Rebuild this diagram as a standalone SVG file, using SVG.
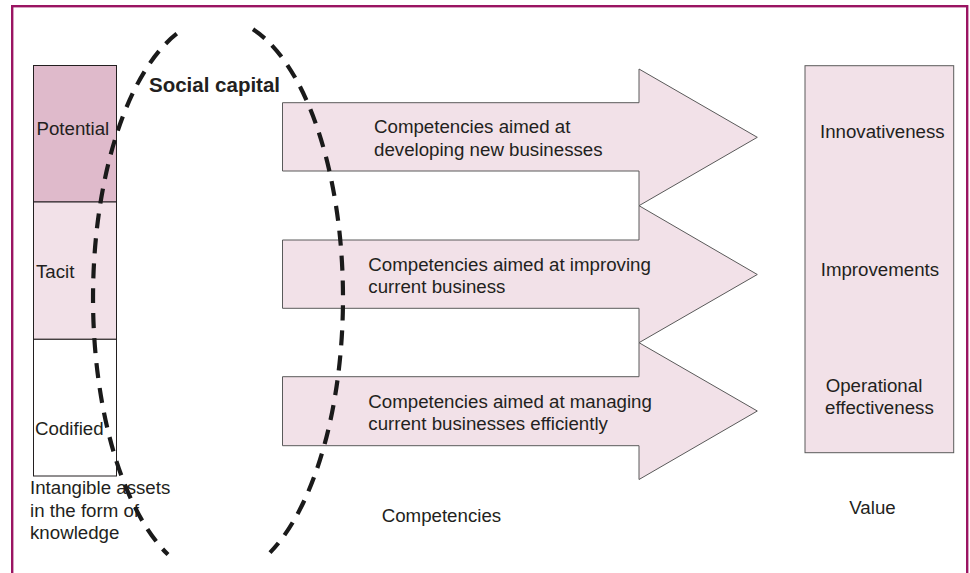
<svg xmlns="http://www.w3.org/2000/svg" width="970" height="573" viewBox="0 0 970 573">
<style>
.t{font-family:"Liberation Sans",Arial,sans-serif;font-size:18.7px;fill:#231f20}
.b{font-family:"Liberation Sans",Arial,sans-serif;font-size:20.5px;font-weight:bold;fill:#231f20}
.box{stroke:#231f20;stroke-width:1}
.arr{fill:#f2e1e8;stroke:#5a5a5a;stroke-width:1}
.dash{fill:none;stroke:#1a1a1a;stroke-width:4.2;stroke-dasharray:15 10}
</style>
<rect x="12.2" y="6.2" width="955" height="620" fill="#ffffff" stroke="#9a1462" stroke-width="2.4"/>
<g id="knowledge">
<rect class="box" x="33.5" y="65.5" width="83" height="136.5" fill="#dfbacb"/>
<rect class="box" x="33.5" y="202" width="83" height="137.3" fill="#f2e1e8"/>
<rect class="box" x="33.5" y="339.3" width="83" height="136.7" fill="#ffffff"/>
<text class="t" x="36.5" y="135">Potential</text>
<text class="t" x="36" y="278">Tacit</text>
<text class="t" x="35" y="435">Codified</text>
<text class="t" x="30" y="494.3">Intangible assets</text>
<text class="t" x="30" y="516.5">in the form of</text>
<text class="t" x="30" y="538.5">knowledge</text>
</g>
<g id="arrow1">
<polygon class="arr" points="282.5,102.7 639,102.7 639,69 757.3,137.3 639,205.7 639,171 282.5,171"/>
<text class="t" x="374" y="133.3">Competencies aimed at</text>
<text class="t" x="374" y="156">developing new businesses</text>
</g>
<g id="arrow2">
<polygon class="arr" points="282.5,240 639,240 639,205.7 757.3,274.5 639,342.7 639,308.3 282.5,308.3"/>
<text class="t" x="368.3" y="270.7">Competencies aimed at improving</text>
<text class="t" x="368.3" y="292.7">current business</text>
</g>
<g id="arrow3">
<polygon class="arr" points="282.5,376.7 639,376.7 639,342.7 757.3,411 639,479.5 639,445.7 282.5,445.7"/>
<text class="t" x="368.3" y="407.7">Competencies aimed at managing</text>
<text class="t" x="368.3" y="430">current businesses efficiently</text>
</g>
<g id="value">
<rect x="805" y="65.7" width="148.7" height="387" fill="#f2e1e8" stroke="#5a5a5a" stroke-width="1"/>
<text class="t" x="820" y="138.3">Innovativeness</text>
<text class="t" x="820.7" y="276">Improvements</text>
<text class="t" x="825.7" y="392">Operational</text>
<text class="t" x="825" y="413.5">effectiveness</text>
</g>
<g id="labels">
<text class="t" x="381.7" y="522.3">Competencies</text>
<text class="t" x="849.3" y="514">Value</text>
<text class="b" x="149" y="92">Social capital</text>
</g>
<g id="connectors">
<path class="dash" d="M176.75,33.7 A125,280 0 0 0 168,554.6"/>
<path class="dash" d="M253,29.2 A125,280 0 0 1 270,552.6"/>
</g>
</svg>
